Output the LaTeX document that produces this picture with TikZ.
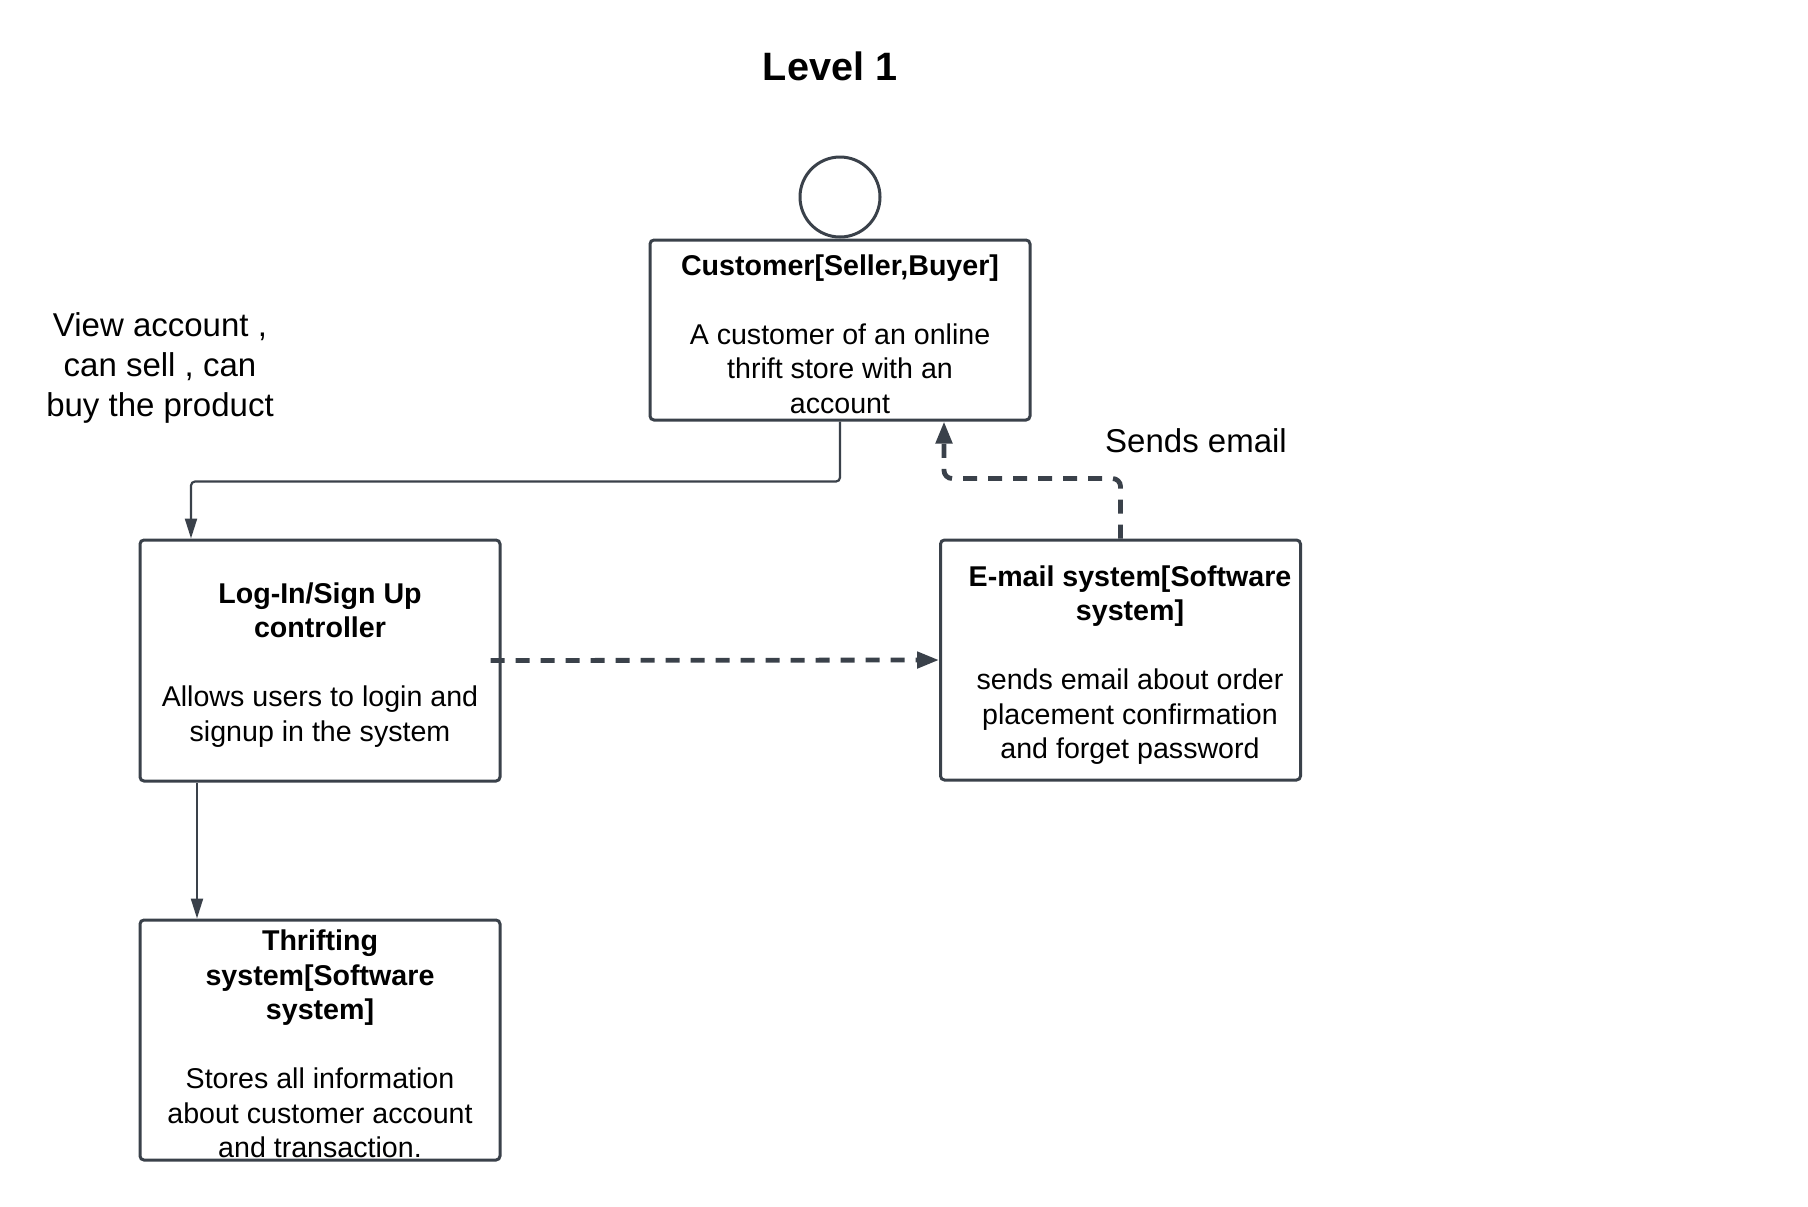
\documentclass[tikz,border=0pt]{standalone}
\usepackage{fontspec}
\setmainfont{Liberation Sans}
\usetikzlibrary{arrows.meta}
\definecolor{lineslate}{HTML}{3A414A}

\tikzset{
	box/.style={draw=lineslate, line width=1.5pt, rounded corners=2pt, rectangle, inner sep=0pt, minimum width=180pt, minimum height=120pt},
	boxtext/.style={align=center, inner sep=0pt, font=\fontsize{14.3}{17.25}\selectfont},
	flow/.style={draw=lineslate, line width=1.1pt, rounded corners=2pt, -{Triangle[length=10pt, width=6pt]}},
	dashflow/.style={draw=lineslate, line width=2.4pt, dash pattern=on 7pt off 5.5pt, rounded corners=4pt, -{Triangle[length=11pt, width=8pt]}},
}

\begin{document}
\begin{tikzpicture}[x=0.5pt, y=-0.5pt]
	\useasboundingbox (0,0) rectangle (1808,1206);
	\node[font=\bfseries\fontsize{19.8}{24}\selectfont] (title) at (830,66) {Level 1};
	% customer
	\node[draw=lineslate, line width=1.5pt, circle, inner sep=0pt, minimum size=40pt] (actor) at (840,197) {};
	\node[box, minimum width=190pt, minimum height=90pt] (cust) at (840,330) {};
	\node[boxtext] (custtext) at (840,334) {\textbf{Customer[Seller,Buyer]}\\[17.25pt]A customer of an online\\thrift store with an\\account};
	\node[align=center, font=\fontsize{16.5}{20}\selectfont] (note) at (160,368) {View account ,\\can sell , can\\buy the product};
	% systems
	\node[box, minimum height=120.5pt] (login) at (320,660.5) {};
	\node[boxtext] (logintext) at (320,665) {\textbf{Log-In/Sign Up}\\\textbf{controller}\\[17.25pt]Allows users to login and\\signup in the system};
	\node[box] (email) at (1120.5,660) {};
	\node[boxtext] (emailtext) at (1130,665) {\textbf{E-mail system[Software}\\\textbf{system]}\\[17.25pt]sends email about order\\placement confirmation\\and forget password};
	\node[box] (thrift) at (320,1040) {};
	\node[boxtext] (thrifttext) at (320,1044) {\textbf{Thrifting}\\\textbf{system[Software}\\\textbf{system]}\\[17.25pt]Stores all information\\about customer account\\and transaction.};
	\node[font=\fontsize{16.5}{20}\selectfont] (sends) at (1196,441) {Sends email};
	% connectors
	\draw[flow] (cust.south) -- ++(0,60) -| ([xshift=26.25pt]login.north west);
	\draw[flow] ([xshift=29.25pt]login.south west) -- ([xshift=29.25pt]thrift.north west);
	\draw[dashflow] ([xshift=-5.5pt]login.east) -- (email.west);
	\draw[dashflow] (email.north) -- ++(0,-60) -| ([xshift=52pt]cust.south);
\end{tikzpicture}
\end{document}
